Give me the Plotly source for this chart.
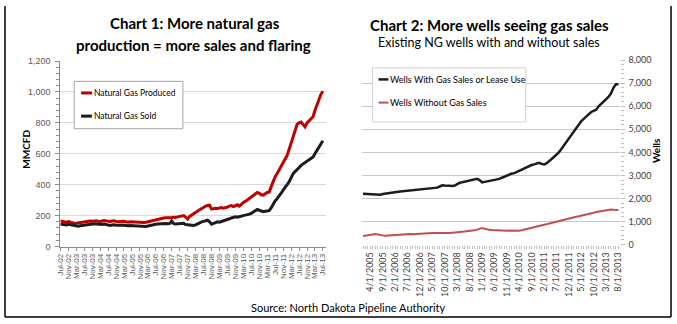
import plotly.graph_objects as go
import pandas as pd

# ---------------- Chart 1 data (MMCFD, monthly Jul-02 .. Jul-13) ----------------
gas_produced = [
    165, 163, 160, 158, 162, 160,
    155, 150, 152, 150, 153, 155,
    158, 160, 162, 165, 163, 166,
    167, 164, 162, 165, 168, 166,
    164, 162, 165, 167, 163, 160,
    162, 165, 163, 160, 158, 161,
    160, 158, 157, 160, 158, 156,
    155, 157, 160, 165, 170, 172,
    175, 178, 180, 183, 185, 186,
    185, 187, 186, 190, 188, 192,
    195, 198, 200, 190, 178, 195,
    205, 215, 222, 230, 238, 245,
    255, 262, 265, 268, 242, 245,
    248, 246, 250, 252, 248, 250,
    255, 262, 265, 258, 265, 270,
    262, 275, 285, 292, 300, 310,
    318, 330, 340, 350, 345, 335,
    333, 345, 350, 352, 380, 420,
    450, 470, 495, 520, 545, 560,
    590, 630, 670, 710, 750, 790,
    800, 805, 790, 775, 800, 815,
    830, 840, 880, 920, 960, 985,
    1005,
]
gas_sold = [
    145, 143, 142, 140, 144, 142,
    138, 135, 133, 132, 135, 137,
    140, 142, 144, 146, 145, 147,
    146, 144, 141, 143, 145, 142,
    140, 137, 139, 141, 138, 136,
    138, 140, 137, 135, 134, 136,
    135, 133, 132, 134, 131, 129,
    128, 130, 133, 137, 140, 142,
    144, 146, 148, 150, 151, 149,
    147, 150, 165, 148, 146, 147,
    145, 147, 150, 143, 140, 142,
    138, 136, 140, 148, 155, 160,
    163, 168, 170, 160, 145, 150,
    155, 160, 158, 162, 165, 168,
    175, 180, 185, 188, 192, 190,
    195, 198, 200, 203, 205, 210,
    215, 222, 232, 240, 235, 228,
    226, 228, 230, 232, 250, 275,
    295, 310, 325, 345, 365, 380,
    400, 420, 450, 470, 485, 495,
    510, 525, 535, 545, 555, 560,
    570, 580, 600, 620, 645, 665,
    685,
]
chart1_tick_labels = [
    "Jul-02", "Nov-02", "Mar-03", "Jul-03", "Nov-03", "Mar-04", "Jul-04",
    "Nov-04", "Mar-05", "Jul-05", "Nov-05", "Mar-06", "Jul-06", "Nov-06",
    "Mar-07", "Jul-07", "Nov-07", "Mar-08", "Jul-08", "Nov-08", "Mar-09",
    "Jul-09", "Nov-09", "Mar-10", "Jul-10", "Nov-10", "Mar-11", "Jul-11",
    "Nov-11", "Mar-12", "Jul-12", "Nov-12", "Mar-13", "Jul-13",
]

# ---------------- Chart 2 data (wells, monthly Jan-2005 .. Aug-2013) ----------------
wells_with_sales = [
    2200, 2190, 2180, 2170, 2160, 2150, 2145, 2160, 2190, 2210, 2230, 2240,
    2250, 2270, 2290, 2300, 2310, 2320, 2330, 2340, 2350, 2360, 2370, 2385,
    2390, 2400, 2410, 2430, 2440, 2450, 2470, 2520, 2570, 2560, 2540, 2550,
    2540, 2560, 2620, 2680, 2700, 2720, 2760, 2780, 2800, 2830, 2850, 2800,
    2700, 2720, 2740, 2760, 2770, 2780, 2800, 2850, 2900, 2950, 3000, 3050,
    3080, 3100, 3150, 3200, 3250, 3300, 3350, 3400, 3450, 3480, 3500, 3550,
    3500, 3480, 3520, 3600, 3700, 3800, 3900, 4000, 4150, 4300, 4450, 4600,
    4750, 4900, 5050, 5200, 5350, 5450, 5550, 5650, 5750, 5800, 5850, 6000,
    6100, 6200, 6300, 6400, 6550, 6800, 6950, 6950,
]
wells_without_sales = [
    370, 380, 400, 420, 440, 460, 450, 430, 400, 380, 390, 400,
    410, 420, 420, 430, 440, 450, 460, 455, 450, 460, 463, 470,
    470, 480, 490, 500, 505, 500, 495, 505, 510, 505, 500, 505,
    510, 520, 530, 550, 560, 570, 575, 590, 600, 620, 650, 700,
    716, 690, 660, 640, 630, 620, 610, 600, 600, 600, 600, 610,
    600, 590, 580, 600, 620, 650, 680, 700, 730, 760, 790, 820,
    840, 860, 880, 910, 940, 970, 1000, 1030, 1060, 1090, 1120, 1150,
    1170, 1190, 1210, 1230, 1250, 1270, 1290, 1320, 1350, 1380, 1410, 1430,
    1450, 1480, 1500, 1530, 1520, 1510, 1500, 1500,
]
chart2_tick_labels = [
    "4/1/2005", "9/1/2005", "2/1/2006", "7/1/2006", "12/1/2006", "5/1/2007",
    "10/1/2007", "3/1/2008", "8/1/2008", "1/1/2009", "6/1/2009", "11/1/2009",
    "4/1/2010", "9/1/2010", "2/1/2011", "7/1/2011", "12/1/2011", "5/1/2012",
    "10/1/2012", "3/1/2013", "8/1/2013",
]

months1 = pd.date_range("2002-07-01", periods=len(gas_produced), freq="MS")
months2 = pd.date_range("2005-01-01", periods=len(wells_with_sales), freq="MS")

W, H = 677, 324


def px(x):
    return x / W


def py(y):
    return 1 - y / H


fig = go.Figure()
fig.add_trace(go.Scatter(x=months1, y=gas_produced, mode="lines", name="Natural Gas Produced",
                         line=dict(color="#c00000", width=3), xaxis="x", yaxis="y", showlegend=False))
fig.add_trace(go.Scatter(x=months1, y=gas_sold, mode="lines", name="Natural Gas Sold",
                         line=dict(color="#1c1c1c", width=3), xaxis="x", yaxis="y", showlegend=False))
fig.add_trace(go.Scatter(x=months2, y=wells_with_sales, mode="lines", name="Wells With Gas Sales or Lease Use",
                         line=dict(color="#1c1c1c", width=2.5), xaxis="x2", yaxis="y2", showlegend=False))
fig.add_trace(go.Scatter(x=months2, y=wells_without_sales, mode="lines", name="Wells Without Gas Sales",
                         line=dict(color="#c0504d", width=2), xaxis="x2", yaxis="y2", showlegend=False))

tick_font_arial = dict(family="Liberation Sans, Arial", size=8, color="#595959")
tick_font_cal = dict(family="Lato, Open Sans", size=9, color="#404040")

fig.update_layout(
    width=W, height=H, margin=dict(l=0, r=0, t=0, b=0),
    paper_bgcolor="white", plot_bgcolor="white",
    xaxis=dict(domain=[px(57), px(326)], anchor="y",
               range=["2002-07-01", "2013-08-20"],
               tickvals=list(months1[::4]), ticktext=chart1_tick_labels,
               tickangle=-90, tickfont=tick_font_arial,
               showgrid=False, showline=True, linecolor="#8c8c8c", linewidth=1,
               ticks="outside", ticklen=3, tickcolor="#8c8c8c", zeroline=False),
    yaxis=dict(domain=[py(249), py(57)], anchor="x",
               range=[0, 1200], dtick=200, tickformat=",",
               tickfont=dict(family="Liberation Sans, Arial", size=9, color="#595959"),
               ticklabelstandoff=3,
               showgrid=True, gridcolor="#d9d9d9", gridwidth=1,
               showline=True, linecolor="#8c8c8c", linewidth=1,
               ticks="outside", ticklen=4, tickcolor="#8c8c8c",
               minor=dict(dtick=40, ticks="outside", ticklen=3, tickcolor="#8c8c8c", showgrid=False),
               zeroline=False),
    xaxis2=dict(domain=[px(362), px(623)], anchor="y2",
                range=["2004-12-16", "2013-08-16"],
                tickvals=list(months2[3::5]), ticktext=chart2_tick_labels,
                tickangle=-90, tickfont=tick_font_cal,
                showgrid=False, showline=False,
                ticks="outside", ticklen=3, tickcolor="#bfbfbf",
                minor=dict(dtick="M1", tick0="2005-01-01", ticks="outside", ticklen=3, tickcolor="#bfbfbf", showgrid=False),
                zeroline=False),
    yaxis2=dict(domain=[py(247), py(56)], anchor="x2", side="right",
                range=[0, 8000], dtick=1000, tickformat=",",
                tickfont=dict(family="Lato, Open Sans", size=9, color="#404040"),
                ticklabelstandoff=2,
                showgrid=True, gridcolor="#c8c8c8", gridwidth=1,
                showline=False, ticks="outside", ticklen=4, tickcolor="#bfbfbf",
                minor=dict(dtick=200, ticks="outside", ticklen=3, tickcolor="#bfbfbf", showgrid=False),
                zeroline=False),
)

title_font = dict(family="Lato, Open Sans", size=15, color="#000000")
annotations = [
    dict(text="<b>Chart 1: More natural gas</b>", x=px(193), y=py(18), font=title_font),
    dict(text="<b>production = more sales and flaring</b>", x=px(192), y=py(40), font=title_font),
    dict(text="<b>Chart 2: More wells seeing gas sales</b>", x=px(491), y=py(20), font=title_font),
    dict(text="Existing NG wells with and without sales", x=px(491), y=py(38),
         font=dict(family="Lato, Open Sans", size=12.5, color="#000000")),
    dict(text="<b>MMCFD</b>", x=px(22), y=py(148), textangle=-90,
         font=dict(family="Lato, Open Sans", size=10, color="#000000")),
    dict(text="<b>Wells</b>", x=px(660), y=py(150), textangle=-90,
         font=dict(family="Lato, Open Sans", size=10, color="#000000")),
    dict(text="Source: North Dakota Pipeline Authority", x=px(348), y=py(312),
         font=dict(family="Lato, Open Sans", size=11, color="#000000")),
    dict(text="Natural Gas Produced", x=px(89), y=py(90), xanchor="left",
         font=dict(family="Lato, Open Sans", size=8.5, color="#000000")),
    dict(text="Natural Gas Sold", x=px(89), y=py(114), xanchor="left",
         font=dict(family="Lato, Open Sans", size=8.5, color="#000000")),
    dict(text="Wells With Gas Sales or Lease Use", x=px(389), y=py(76), xanchor="left",
         font=dict(family="Lato, Open Sans", size=9, color="#000000")),
    dict(text="Wells Without Gas Sales", x=px(389), y=py(100), xanchor="left",
         font=dict(family="Lato, Open Sans", size=9, color="#000000")),
]
for a in annotations:
    a.setdefault("xanchor", "center")
    a.update(xref="paper", yref="paper", yanchor="middle", showarrow=False)
fig.update_layout(annotations=annotations)

shapes = [
    # legend boxes
    dict(type="rect", x0=px(71), x1=px(181), y0=py(127), y1=py(78),
         line=dict(color="#a6a6a6", width=1), fillcolor="white"),
    dict(type="rect", x0=px(373), x1=px(528), y0=py(120), y1=py(64),
         line=dict(color="#d0d0d0", width=1), fillcolor="white"),
    # legend keys
    dict(type="line", x0=px(78), x1=px(89), y0=py(90), y1=py(90), line=dict(color="#c00000", width=3)),
    dict(type="line", x0=px(78), x1=px(89), y0=py(114), y1=py(114), line=dict(color="#1c1c1c", width=3)),
    dict(type="line", x0=px(379), x1=px(389), y0=py(76), y1=py(76), line=dict(color="#1c1c1c", width=2.5)),
    dict(type="line", x0=px(379), x1=px(389), y0=py(100), y1=py(100), line=dict(color="#c0504d", width=2)),
    # outer frame
    dict(type="line", x0=px(1), x1=px(1), y0=py(0), y1=py(322), line=dict(color="#000000", width=1.5)),
    dict(type="line", x0=px(675), x1=px(675), y0=py(0), y1=py(322), line=dict(color="#000000", width=1.5)),
    dict(type="line", x0=px(1), x1=px(675), y0=py(322), y1=py(322), line=dict(color="#000000", width=1.5)),
]
for s in shapes:
    s.update(xref="paper", yref="paper", layer="above")
fig.update_layout(shapes=shapes)

fig.write_html("out.html")
